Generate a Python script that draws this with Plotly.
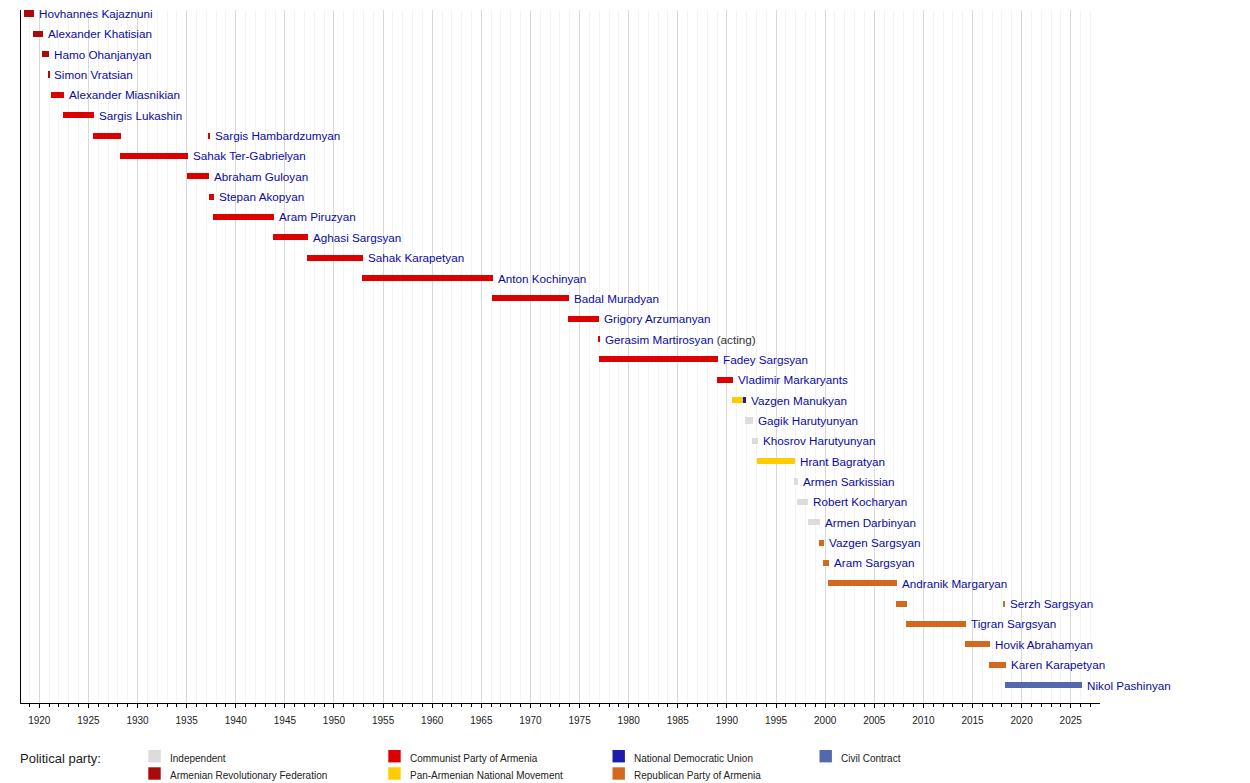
import plotly.graph_objects as go

# ---------------- data ----------------
names = [
    "Hovhannes Kajaznuni", "Alexander Khatisian", "Hamo Ohanjanyan", "Simon Vratsian",
    "Alexander Miasnikian", "Sargis Lukashin", "Sargis Hambardzumyan", "Sahak Ter-Gabrielyan",
    "Abraham Guloyan", "Stepan Akopyan", "Aram Piruzyan", "Aghasi Sargsyan",
    "Sahak Karapetyan", "Anton Kochinyan", "Badal Muradyan", "Grigory Arzumanyan",
    "Gerasim Martirosyan", "Fadey Sargsyan", "Vladimir Markaryants", "Vazgen Manukyan",
    "Gagik Harutyunyan", "Khosrov Harutyunyan", "Hrant Bagratyan", "Armen Sarkissian",
    "Robert Kocharyan", "Armen Darbinyan", "Vazgen Sargsyan", "Aram Sargsyan",
    "Andranik Margaryan", "Serzh Sargsyan", "Tigran Sargsyan", "Hovik Abrahamyan",
    "Karen Karapetyan", "Nikol Pashinyan",
]
name_notes = {16: "(acting)"}

term_row = [0, 1, 2, 3, 4, 5, 6, 6, 7, 8, 9, 10, 11, 12, 13, 14, 15, 16, 17, 18,
            19, 19, 20, 21, 22, 23, 24, 25, 26, 27, 28, 29, 29, 30, 31, 32, 33]
term_start = [1918.44, 1919.36, 1920.27, 1920.89, 1921.19, 1922.41, 1925.47, 1937.17,
              1928.22, 1935.00, 1937.28, 1937.69, 1943.79, 1947.25, 1952.85, 1966.09,
              1973.83, 1976.88, 1976.98, 1988.99, 1990.52, 1991.64, 1991.84, 1992.55,
              1993.06, 1996.83, 1997.10, 1998.22, 1999.37, 1999.78, 2000.29, 2007.20,
              2018.20, 2008.23, 2014.24, 2016.68, 2018.31]
term_end = [1919.46, 1920.38, 1920.99, 1920.99, 1922.48, 1925.57, 1928.29, 1937.38,
            1935.11, 1937.25, 1937.79, 1943.90, 1947.35, 1952.95, 1966.19, 1973.93,
            1976.99, 1977.08, 1989.10, 1990.62, 1991.64, 1991.95, 1992.66, 1993.16,
            1996.93, 1997.24, 1998.28, 1999.47, 1999.88, 2000.39, 2007.31, 2008.33,
            2018.30, 2014.34, 2016.78, 2018.41, 2026.15]
term_party = ["ARF", "ARF", "ARF", "ARF", "CPA", "CPA", "CPA", "CPA",
              "CPA", "CPA", "CPA", "CPA", "CPA", "CPA", "CPA", "CPA",
              "CPA", "CPA", "CPA", "CPA", "PANM", "NDU", "IND", "IND",
              "PANM", "IND", "IND", "IND", "RPA", "RPA", "RPA", "RPA",
              "RPA", "RPA", "RPA", "RPA", "CC"]

party_keys = ["IND", "ARF", "CPA", "PANM", "NDU", "RPA", "CC"]
party_labels = {
    "IND": "Independent",
    "ARF": "Armenian Revolutionary Federation",
    "CPA": "Communist Party of Armenia",
    "PANM": "Pan-Armenian National Movement",
    "NDU": "National Democratic Union",
    "RPA": "Republican Party of Armenia",
    "CC": "Civil Contract",
}
party_colors = {
    "IND": "#dcdcdc",
    "ARF": "#aa0a0a",
    "CPA": "#dd0000",
    "PANM": "#ffcc00",
    "NDU": "#1c1ca8",
    "RPA": "#d2691e",
    "CC": "#5468ad",
}
# legend grid: (column, row) per party
legend_cells = {"IND": (0, 0), "ARF": (0, 1), "CPA": (1, 0), "PANM": (1, 1),
                "NDU": (2, 0), "RPA": (2, 1), "CC": (3, 0)}

# ---------------- layout geometry ----------------
OFF = 8                      # page body margin
W, H = 1250 - OFF, 783 - OFF
ML, MR, MT, MB = 21 - OFF, 150, 10 - OFF, 80
PW, PH = W - ML - MR, H - MT - MB
X_RANGE = [1918.137, 2027.98]
Y_RANGE = [33.884, -0.172]

def px_x(px):
    return (px - OFF - ML) / PW

def px_y(py):
    return (H - MB - (py - OFF)) / PH

FONT = "Liberation Sans, Arial, sans-serif"
NAME_COLOR = "#0a0aa5"

fig = go.Figure()

for key in party_keys:
    idx = [i for i, p in enumerate(term_party) if p == key]
    if not idx:
        continue
    fig.add_trace(go.Bar(
        orientation="h",
        y=[term_row[i] for i in idx],
        base=[term_start[i] for i in idx],
        x=[term_end[i] - term_start[i] for i in idx],
        width=0.30,
        marker=dict(color=party_colors[key], line=dict(width=0)),
        name=party_labels[key],
        showlegend=False,
        hoverinfo="skip",
    ))

annotations = []
for r, nm in enumerate(names):
    ends = [term_end[i] for i in range(len(term_row)) if term_row[i] == r]
    txt = nm
    if r in name_notes:
        txt = nm + " <span style='color:#333333'>" + name_notes[r] + "</span>"
    annotations.append(dict(
        x=max(ends), y=r, xref="x", yref="y", text=txt, showarrow=False,
        xanchor="left", yanchor="middle", xshift=3,
        font=dict(family=FONT, size=11.7, color=NAME_COLOR),
    ))

# legend (manual)
annotations.append(dict(
    x=px_x(18), y=px_y(758), xref="paper", yref="paper", text="Political party:",
    showarrow=False, xanchor="left", yanchor="middle",
    font=dict(family=FONT, size=13, color="#222222"),
))
col_swatch_x = [148.3, 388.3, 612.5, 819.5]
col_text_x = [168.0, 407.5, 631.5, 839.0]
row_swatch_y = [750.0, 767.3]
row_text_y = [758.3, 775.5]
SW = 12.4
shapes = []
for key in party_keys:
    c, rr = legend_cells[key]
    x0 = col_swatch_x[c]
    y0 = row_swatch_y[rr]
    shapes.append(dict(
        type="rect", xref="paper", yref="paper",
        x0=px_x(x0), x1=px_x(x0 + SW), y0=px_y(y0 + SW), y1=px_y(y0),
        fillcolor=party_colors[key], line=dict(width=0), layer="above",
    ))
    annotations.append(dict(
        x=px_x(col_text_x[c]), y=px_y(row_text_y[rr]), xref="paper", yref="paper",
        text=party_labels[key], showarrow=False, xanchor="left", yanchor="middle",
        font=dict(family=FONT, size=10, color="#222222"),
    ))

fig.update_layout(
    width=W, height=H,
    margin=dict(l=ML, r=MR, t=MT, b=MB, pad=0),
    paper_bgcolor="white", plot_bgcolor="white",
    barmode="overlay",
    bargap=0,
    showlegend=False,
    annotations=annotations,
    shapes=shapes,
    xaxis=dict(
        range=X_RANGE, tick0=1920, dtick=5, showgrid=True, gridcolor="#d9d9d9",
        gridwidth=1, zeroline=False, showline=True, linecolor="black", linewidth=1,
        ticks="outside", ticklen=4, tickcolor="black", tickwidth=1,
        ticklabelstandoff=4,
        tickfont=dict(family=FONT, size=10, color="#222222"),
        minor=dict(dtick=1, tick0=1920, ticks="outside", ticklen=3, tickcolor="black",
                   showgrid=True, gridcolor="#f3f3f3", gridwidth=1),
        fixedrange=True,
    ),
    yaxis=dict(
        range=Y_RANGE, showgrid=False, zeroline=False, showticklabels=False,
        ticks="", showline=True, linecolor="black", linewidth=1, fixedrange=True,
    ),
)

fig.write_html("out.html")
